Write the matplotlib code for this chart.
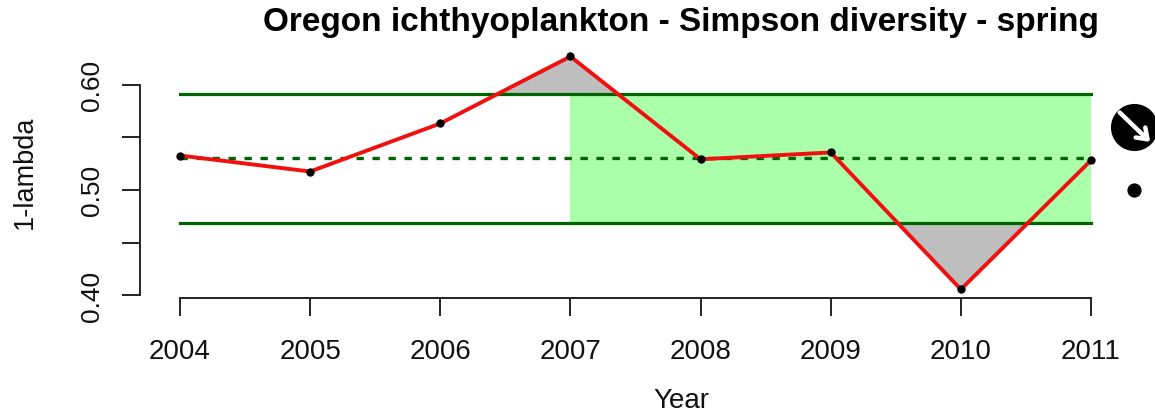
import numpy as np
import matplotlib
matplotlib.use("Agg")
import matplotlib.pyplot as plt

plt.rcParams['font.family'] = ['Liberation Sans', 'DejaVu Sans']

years = [2004, 2005, 2006, 2007, 2008, 2009, 2010, 2011]
diversity = [0.5326, 0.5174, 0.563, 0.6266, 0.529, 0.5355, 0.4055, 0.528]
mean_val = 0.53
upper = 0.591
lower = 0.469
y_ticks = [0.40, 0.45, 0.50, 0.55, 0.60]
y_labels = ["0.40", "", "0.50", "", "0.60"]
# trend symbols to the right of the panel
trend_x = 2011.33
trend_y = 0.56
level_y = 0.4994

W, H = 1155, 414
fig = plt.figure(figsize=(W / 100, H / 100), dpi=100)
ax = fig.add_axes([140 / W, 1 - 298.5 / H, (1155 - 140) / W, (298.5 - 40) / H])

# pixel scale of the original panel
px_x = 911 / 7.0
px_y = 0.2 / 210.7
ax.set_xlim(2004 - 40 / px_x, 2004 + (1155 - 180) / px_x)
ax.set_ylim(0.6 - (298.5 - 85.5) * px_y, 0.6 + (85.5 - 40) * px_y)

x = np.array(years, dtype=float)
y = np.array(diversity)

# green band for the last 5 years
ax.fill_between([2007, 2011], lower, upper, color="#AAFFAA", lw=0, zorder=1)

# grey where the series leaves the band
ax.fill_between(x, y, upper, where=y > upper, interpolate=True, color="#BEBEBE", lw=0, zorder=2)
ax.fill_between(x, y, lower, where=y < lower, interpolate=True, color="#BEBEBE", lw=0, zorder=2)

ax.plot([2004, 2011], [upper, upper], color="#006400", lw=2.3, zorder=3)
ax.plot([2004, 2011], [lower, lower], color="#006400", lw=2.3, zorder=3)
ax.plot([2004, 2011], [mean_val, mean_val], color="#006400", lw=2.4, dashes=(2.2, 2.6), zorder=3)

ax.plot(x, y, color="#F01010", lw=2.8, zorder=4)
ax.scatter(x, y, s=36, color="black", lw=0, zorder=5)

# trend symbols
ax.scatter([trend_x], [trend_y], s=1150, color="black", lw=0, clip_on=False, zorder=5)
ax.annotate("", xy=(trend_x + 0.125, trend_y - 0.0145), xytext=(trend_x - 0.11, trend_y + 0.0135),
            arrowprops=dict(arrowstyle="->,head_length=0.7,head_width=0.5", color="white", lw=3.2,
                            shrinkA=0, shrinkB=0), zorder=6)
ax.scatter([trend_x], [level_y], s=105, color="black", lw=0, clip_on=False, zorder=5)

for s in ["top", "right"]:
    ax.spines[s].set_visible(False)
ax.spines["left"].set_bounds(0.40, 0.60)
ax.spines["bottom"].set_bounds(2004, 2011)
ax.spines["left"].set_linewidth(1.4)
ax.spines["bottom"].set_linewidth(1.4)
ax.spines["left"].set_color("#222222")
ax.spines["bottom"].set_color("#222222")

ax.set_xticks(years)
ax.set_xticklabels([str(v) for v in years])
ax.set_yticks(y_ticks)
ax.set_yticklabels(y_labels, rotation=90, va="center")
ax.tick_params(axis="both", length=13, width=1.4, color="#222222", labelcolor="#111111")
ax.tick_params(axis="x", pad=16, labelsize=20)
ax.tick_params(axis="y", pad=13, labelsize=19)

fig.text(681 / W, 1 - 401 / H, "Year", fontsize=20, ha="center", va="center", color="#111111")
fig.text(25 / W, 1 - 172 / H, "1-lambda", fontsize=19.5, rotation=90, ha="center", va="center", color="#111111")
fig.text(681 / W, 1 - 23 / H, "Oregon ichthyoplankton - Simpson diversity - spring", fontsize=24,
         fontweight="bold", ha="center", va="center", color="black")

fig.savefig("out.png", dpi=100)
